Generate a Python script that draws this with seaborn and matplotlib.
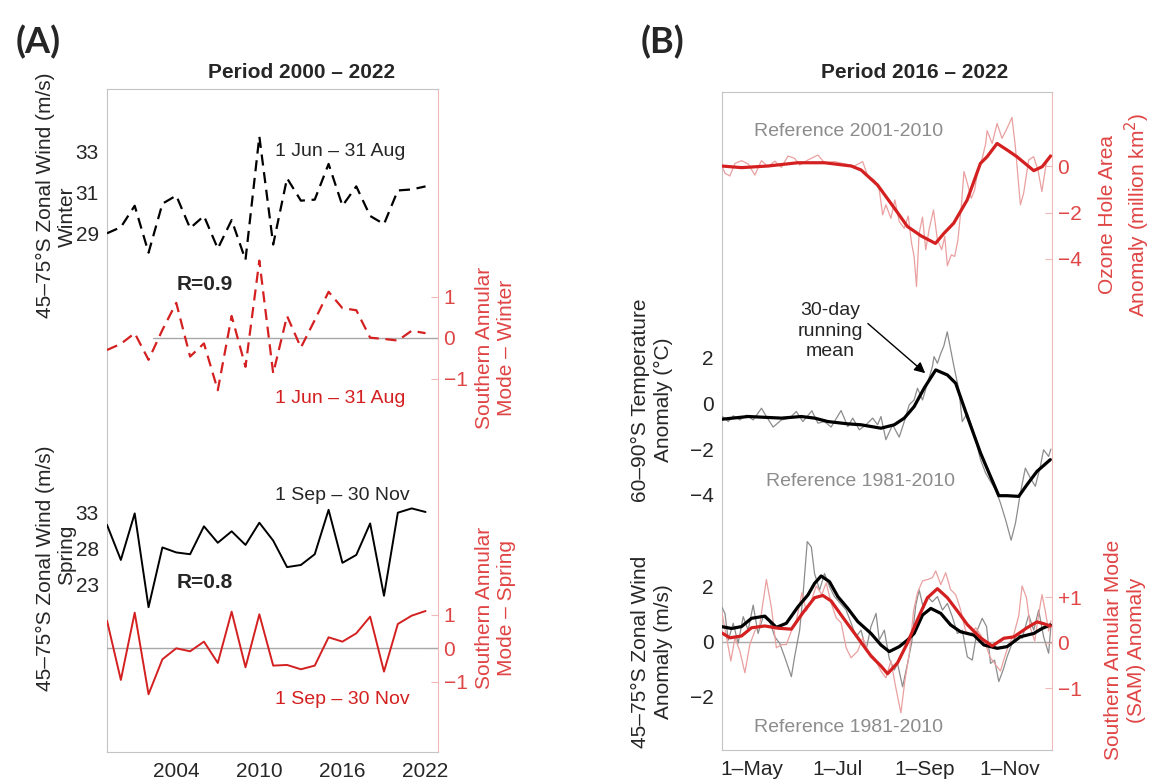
import matplotlib
matplotlib.use("Agg")
import matplotlib.pyplot as plt
import seaborn as sns

# ---- (A) seasonal means, one value per year ----
years = list(range(1999, 2023))
winter_wind = [29.0, 29.3, 30.35, 28.05, 30.45, 30.85, 29.25, 29.85, 28.25, 29.65, 27.7, 33.75,
               28.45, 31.7, 30.6, 30.65, 32.4, 30.35, 31.3, 29.85, 29.45, 31.1, 31.15, 31.3]
winter_sam = [-0.30, -0.15, 0.11, -0.54, 0.19, 0.85, -0.46, -0.14, -1.28, 0.53, -0.71, 1.88,
              -0.87, 0.53, -0.24, 0.43, 1.12, 0.72, 0.67, 0.0, -0.03, -0.07, 0.17, 0.11]
spring_wind = [31.3, 26.4, 32.9, 19.8, 28.15, 27.45, 27.2, 31.1, 28.8, 30.4, 28.5, 31.6,
               29.1, 25.4, 25.7, 27.2, 33.4, 26.0, 27.1, 31.5, 21.4, 33.0, 33.6, 33.1]
spring_sam = [0.83, -0.95, 1.07, -1.38, -0.33, 0.0, -0.09, 0.2, -0.44, 1.1, -0.57, 1.02,
              -0.52, -0.5, -0.63, -0.52, 0.33, 0.2, 0.45, 0.95, -0.7, 0.73, 0.98, 1.12]
year_ticks = [2004, 2010, 2016, 2022]

# ---- (B) daily anomalies (day of year), thin = daily, thick = 30-day running mean ----
oz_day = [99.7, 102.1, 105.6, 109.2, 113.9, 118.6, 123.4, 128.1, 132.8, 137.6, 142.3, 147.0, 151.7,
          155.3, 161.2, 168.3, 173.0, 180.1, 187.2, 194.3, 200.2, 203.7, 208.5, 212.0, 214.4, 216.7,
          220.3, 223.1, 226.2, 229.8, 232.6, 235.0, 236.8, 238.5, 240.4, 242.8, 245.1, 247.5, 250.6,
          253.4, 256.5, 258.6, 260.5, 263.3, 265.7, 268.0, 270.4, 272.3, 274.7, 277.5, 279.9, 282.2,
          285.3, 287.7, 288.8, 292.4, 295.9, 299.4, 303.0, 306.5, 308.9, 312.5, 314.8, 318.4, 321.9,
          325.0, 327.8, 330.9, 333.7]
oz_daily = [0.04, -0.31, -0.43, 0.11, 0.23, 0.09, -0.39, 0.23, -0.03, 0.21, -0.06, 0.43, 0.33,
            0.04, 0.26, 0.47, 0.14, 0.19, 0.09, 0.0, 0.19, -0.43, -0.6, -1.03, -2.1, -1.67,
            -2.25, -1.46, -2.39, -2.68, -2.15, -3.32, -3.89, -5.18, -2.89, -2.2, -3.6, -2.72, -1.89,
            -3.18, -3.6, -3.03, -4.29, -3.82, -3.89, -3.18, -1.75, -0.24, -0.74, -1.39, -1.03, -0.17,
            0.33, 0.94, 1.52, 0.97, 1.83, 1.19, 1.62, 2.09, 0.83, -1.67, -1.17, 0.26, 0.4,
            -0.17, -1.1, 0.12, 0.47]
oz_mean_day = [99.7, 113.9, 132.8, 154, 173, 192, 199, 210.8, 222.6, 232, 241.6, 252, 258, 265,
               274.6, 284, 288.8, 295.9, 303, 310, 322, 328, 334]
oz_mean = [0.0, -0.07, 0.0, 0.14, 0.14, 0.0, -0.17, -0.82, -1.8, -2.6, -3.0, -3.33, -2.9, -2.46,
           -1.46, 0.11, 0.4, 0.97, 0.69, 0.4, -0.2, -0.03, 0.43]

t_day = [99.7, 104.5, 108.0, 112.7, 117.5, 122.2, 128.1, 131.6, 136.4, 142.3, 148.2, 152.9, 157.6,
         164.0, 168.3, 173.0, 177.7, 184.8, 189.6, 193.1, 197.8, 202.6, 207.3, 210.8, 213.2, 216.7,
         221.5, 226.2, 229.8, 233.3, 236.8, 239.2, 242.8, 246.3, 249.8, 251.0, 253.4, 255.8, 258.0,
         260.4, 265.2, 268.7, 271.1, 274.7, 279.4, 284.1, 287.7, 291.2, 294.8, 298.3, 301.9, 305.9,
         309.0, 312.5, 316.0, 319.6, 323.1, 326.7, 329.0, 332.6, 334.2]
t_daily = [-0.55, -0.80, -0.55, -0.73, -0.52, -0.73, -0.22, -0.58, -1.04, -0.73, -0.65, -0.36, -0.80,
           -0.33, -0.87, -0.80, -1.04, -0.32, -1.02, -0.65, -1.16, -0.94, -0.65, -0.94, -0.58, -1.59,
           -0.94, -1.48, -0.80, -0.07, 0.14, 0.65, 0.14, 0.87, 1.59, 2.03, 1.74, 2.17, 2.5,
           3.11, 1.59, 0.58, -0.80, -0.44, -1.30, -2.46, -3.04, -3.41, -3.77, -4.35, -5.07, -5.97,
           -5.22, -3.91, -2.83, -3.26, -3.62, -2.75, -2.03, -2.32, -2.00]
t_mean_day = [99.7, 118.6, 142.3, 156.5, 165.9, 175.4, 189.6, 199.0, 213.2, 222.7, 229.8, 236.8,
              243.9, 252.2, 260.5, 266.4, 274.7, 284.1, 291.2, 297.1, 303.0, 311.3, 317.2, 324.3, 333.8]
t_mean = [-0.70, -0.58, -0.65, -0.58, -0.65, -0.80, -0.90, -0.94, -1.09, -0.94, -0.65, -0.15,
          0.65, 1.45, 1.23, 0.87, -0.58, -2.17, -3.19, -4.03, -4.03, -4.06, -3.55, -2.97, -2.46]

w_day = [99.7, 102.1, 104.5, 108.0, 111.5, 115.1, 118.6, 122.2, 125.7, 129.3, 134.0, 137.6, 141.1,
         144.6, 149.4, 151.7, 155.3, 157.6, 160.7, 163.6, 165.9, 169.5, 173.0, 176.6, 180.1, 184.4,
         188.4, 192.0, 195.5, 199.0, 202.6, 206.1, 209.7, 212.0, 215.6, 219.1, 222.7, 225.0, 228.6,
         232.1, 235.0, 238.0, 240.4, 243.5, 246.3, 249.8, 253.4, 257.0, 260.5, 264.0, 267.6, 271.1,
         274.7, 278.2, 281.8, 285.3, 288.4, 291.2, 294.1, 297.1, 300.2, 303.0, 306.6, 310.1, 313.7,
         318.4, 322.0, 325.5, 329.0, 332.6, 334.2]
w_daily = [1.27, 1.03, 0.06, 0.67, -0.06, 0.91, 0.42, 1.33, 0.30, 0.91, 0.73, 0.18, -0.06,
           -0.55, -1.27, -0.55, 0.42, 1.64, 3.64, 3.45, 2.48, 1.88, 2.48, 2.00, 1.64, 1.39,
           1.15, 0.67, 0.18, 0.42, -0.30, 0.55, 1.03, 0.06, 0.42, -0.61, -1.03, -0.79, -1.64,
           -0.79, -0.06, 1.33, 1.88, 1.21, 1.64, 1.45, 1.64, 1.15, 1.39, 0.91, 0.30, 0.42,
           -0.55, -0.67, 0.42, 0.85, 0.55, -0.79, -0.67, -1.45, -1.03, -0.55, -0.06, 0.30, 0.12,
           0.97, 0.42, 1.15, 0.18, -0.42, 0.55]
w_mean_day = [99.7, 106.8, 113.9, 121.0, 130.5, 138.7, 145.8, 154.1, 161.2, 165.9, 170.6, 176.6,
              182.5, 189.6, 196.7, 206.1, 213.2, 219.1, 226.2, 232.1, 236.8, 242.8, 248.7, 255.8,
              262.8, 269.9, 279.4, 286.5, 296.0, 303.0, 312.5, 322.0, 327.9, 333.8]
w_mean = [0.55, 0.48, 0.55, 0.85, 0.93, 0.52, 0.67, 1.27, 1.70, 2.12, 2.39, 2.18, 1.64, 1.21,
          0.73, 0.30, -0.12, -0.36, -0.18, 0.06, 0.30, 0.97, 1.21, 1.03, 0.61, 0.36, 0.24, -0.12,
          -0.24, -0.18, 0.18, 0.30, 0.48, 0.61]

s_day = [99.7, 103.3, 106.3, 109.2, 112.7, 116.3, 119.8, 123.4, 126.9, 131.6, 135.2, 138.7, 142.3,
         145.8, 149.4, 152.9, 156.9, 160.0, 163.6, 167.1, 171.1, 174.2, 177.7, 181.3, 184.8, 188.4,
         191.9, 196.7, 200.2, 203.7, 208.5, 213.2, 216.7, 220.3, 223.8, 227.4, 230.2, 233.3, 236.4,
         239.2, 242.8, 246.3, 249.8, 252.2, 255.8, 259.3, 262.8, 266.4, 269.9, 273.5, 277.0, 280.6,
         284.1, 287.7, 291.2, 294.8, 298.3, 301.1, 304.2, 307.8, 311.3, 313.7, 316.8, 319.6, 322.7,
         325.5, 327.9, 330.2, 332.6, 334.2]
s_daily = [0.70, 0.11, -0.40, 0.11, -0.18, -0.66, -0.04, 0.26, 0.40, 1.39, 0.77, -0.11, -0.04,
           -0.04, 0.26, 0.48, 1.10, 0.70, 0.92, 1.25, 1.06, 1.32, 0.88, 0.55, 0.44, -0.11,
           -0.33, -0.18, 0.11, -0.18, -0.33, -0.62, -0.77, -0.40, -0.99, -1.54, -0.84, -0.26, 0.70,
           1.10, 1.36, 1.39, 1.43, 1.58, 1.28, 1.54, 1.17, 1.06, 0.73, 0.26, 0.18, 0.33,
           0.18, -0.04, -0.33, -0.48, -0.62, -0.33, -0.04, 0.18, 0.59, 1.25, 0.99, 0.33, 0.04,
           0.62, 1.06, 0.70, 0.26, 0.48]
s_mean_day = [99.7, 105.6, 113.9, 121.0, 130.5, 140.0, 149.4, 157.6, 165.9, 171.8, 177.7, 187.2,
              196.7, 206.1, 213.2, 217.9, 225.0, 232.1, 239.2, 246.3, 253.4, 260.5, 267.6, 274.7,
              284.1, 292.4, 300.7, 307.8, 317.2, 324.3, 329.0, 333.8]
s_mean = [0.22, 0.11, 0.15, 0.33, 0.37, 0.32, 0.30, 0.66, 0.99, 1.04, 0.92, 0.51, 0.11, -0.29,
          -0.51, -0.68, -0.44, 0.0, 0.51, 0.99, 1.19, 0.99, 0.70, 0.40, 0.11, -0.07, 0.10, 0.13,
          0.33, 0.46, 0.42, 0.37]
month_ticks = [121, 182, 244, 305]
month_labels = ["1\u2013May", "1\u2013Jul", "1\u2013Sep", "1\u2013Nov"]

# ---- style ----
sns.set_style("white")
plt.rcParams["font.family"] = ["Liberation Sans", "DejaVu Sans"]

W, H = 1156, 780
FRAME = "#c4c4c4"
PINK = "#f0b8b8"
RED = "#d42020"
RED_TXT = "#e04545"
LIGHT_RED = "#eaa0a0"
GREY = "#8c8c8c"
ZERO = "#a8a8a8"
FS = 14

fig = plt.figure(figsize=(W / 100, H / 100), dpi=100)


def fx(x, y):
    return x / W, 1 - y / H


def rect(left, top, right, bottom):
    return [left / W, 1 - bottom / H, (right - left) / W, (bottom - top) / H]


def band(ax, v1, y1, v2, y2, top, bottom):
    # put value v1 at pixel row y1 and v2 at y2
    k = (y2 - y1) / (v1 - v2)
    ax.set_ylim(v1 - (bottom - y1) / k, v1 + (y1 - top) / k)


def base_axes(r, xlim, xticks, xlabels):
    ax = fig.add_axes(r)
    ax.set_xlim(*xlim)
    ax.set_yticks([])
    ax.set_xticks(xticks)
    ax.set_xticklabels(xlabels)
    for s in ["left", "top", "bottom"]:
        ax.spines[s].set_color(FRAME)
    ax.spines["right"].set_color(PINK)
    ax.tick_params(axis="x", direction="in", length=5, color=FRAME, labelsize=FS + 1, pad=7)
    return ax


def overlay(base, r, side, ticks, labels):
    ax = fig.add_axes(r, sharex=base)
    ax.patch.set_visible(False)
    for s in ax.spines.values():
        s.set_visible(False)
    ax.tick_params(axis="x", bottom=False, labelbottom=False)
    if side == "right":
        ax.yaxis.tick_right()
        ax.tick_params(axis="y", direction="in", length=5, color=PINK,
                       labelcolor=RED_TXT, labelsize=FS + 1, pad=4)
    elif side == "left":
        ax.tick_params(axis="y", left=True, length=0, labelsize=FS + 1, pad=6)
    else:
        ax.tick_params(axis="y", left=False, right=False, labelleft=False)
    ax.set_yticks(ticks)
    ax.set_yticklabels(labels)
    return ax


# ================= Panel A =================
rA = rect(107, 89, 438, 752)
topA, botA = 89, 752
axA = base_axes(rA, (1999, 2022.9), year_ticks, [str(y) for y in year_ticks])

ax1 = overlay(axA, rA, "left", [29, 31, 33], ["29", "31", "33"])
band(ax1, 33, 151.7, 29, 233.3, topA, botA)
sns.lineplot(x=years, y=winter_wind, ax=ax1, color="black", lw=1.6, linestyle=(0, (5, 3)))

ax2 = overlay(axA, rA, "right", [-1, 0, 1], ["\u22121", "0", "1"])
band(ax2, 1, 296.7, 0, 337.7, topA, botA)
ax2.axhline(0, xmin=0.14, color=ZERO, lw=1)
sns.lineplot(x=years, y=winter_sam, ax=ax2, color=RED, lw=1.6, linestyle=(0, (5, 3)))

ax3 = overlay(axA, rA, "left", [23, 28, 33], ["23", "28", "33"])
band(ax3, 33, 512.7, 23, 584.3, topA, botA)
sns.lineplot(x=years, y=spring_wind, ax=ax3, color="black", lw=1.4)

ax4 = overlay(axA, rA, "right", [-1, 0, 1], ["\u22121", "0", "1"])
band(ax4, 1, 615, 0, 648.3, topA, botA)
ax4.axhline(0, color=ZERO, lw=1)
sns.lineplot(x=years, y=spring_sam, ax=ax4, color=RED, lw=1.4)

for a in (ax1, ax2, ax3, ax4):
    a.set_xlabel("")
    a.set_ylabel("")
axA.set_xlim(1999, 2022.9)

fig.text(*fx(275, 151), "1 Jun \u2013 31 Aug", fontsize=FS, ha="left", va="center")
fig.text(*fx(177, 284), "R=0.9", fontsize=FS + 1, fontweight="bold", ha="left", va="center")
fig.text(*fx(275, 399), "1 Jun \u2013 31 Aug", fontsize=FS, color=RED, ha="left", va="center")
fig.text(*fx(275, 496), "1 Sep \u2013 30 Nov", fontsize=FS, ha="left", va="center")
fig.text(*fx(177, 583), "R=0.8", fontsize=FS + 1, fontweight="bold", ha="left", va="center")
fig.text(*fx(275, 699), "1 Sep \u2013 30 Nov", fontsize=FS, color=RED, ha="left", va="center")

fig.text(*fx(302, 73), "Period 2000 \u2013 2022", fontsize=FS + 1, fontweight="bold",
         ha="center", va="center")
fig.text(*fx(38, 42), "(A)", fontsize=26, fontweight="bold", family=["Lato", "DejaVu Sans"],
         ha="center", va="center")

fig.text(*fx(45, 195), "45\u201375\u00b0S Zonal Wind (m/s)", fontsize=FS + 1, rotation=90,
         ha="center", va="center")
fig.text(*fx(67, 217), "Winter", fontsize=FS + 1, rotation=90, ha="center", va="center")
fig.text(*fx(45, 568), "45\u201375\u00b0S Zonal Wind (m/s)", fontsize=FS + 1, rotation=90,
         ha="center", va="center")
fig.text(*fx(67, 555), "Spring", fontsize=FS + 1, rotation=90, ha="center", va="center")
fig.text(*fx(495, 348), "Southern Annular\nMode \u2013 Winter", fontsize=FS + 1, color=RED_TXT,
         rotation=90, ha="center", va="center", multialignment="center", linespacing=1.2)
fig.text(*fx(495, 608), "Southern Annular\nMode \u2013 Spring", fontsize=FS + 1, color=RED_TXT,
         rotation=90, ha="center", va="center", multialignment="center", linespacing=1.2)

# ================= Panel B =================
rB = rect(722, 92, 1052, 750)
topB, botB = 92, 750
axB = base_axes(rB, (100, 335), month_ticks, month_labels)

bo = overlay(axB, rB, "right", [-4, -2, 0], ["\u22124", "\u22122", "0"])
band(bo, 0, 166, -4, 259, topB, botB)
sns.lineplot(x=oz_day, y=oz_daily, ax=bo, color=LIGHT_RED, lw=0.9)
sns.lineplot(x=oz_mean_day, y=oz_mean, ax=bo, color=RED, lw=2.3)

bt = overlay(axB, rB, "left", [-4, -2, 0, 2], ["\u22124", "\u22122", "0", "2"])
band(bt, 2, 357.3, -4, 495, topB, botB)
sns.lineplot(x=t_day, y=t_daily, ax=bt, color=GREY, lw=0.9)
sns.lineplot(x=t_mean_day, y=t_mean, ax=bt, color="black", lw=2.3)
bt.annotate("", xy=(246.2, 1.23), xytext=(202.4, 3.55),
            arrowprops=dict(arrowstyle="-|>", color="black", lw=1.0, mutation_scale=16))

bw = overlay(axB, rB, "left", [-2, 0, 2], ["\u22122", "0", "2"])
band(bw, 2, 586.7, -2, 696.7, topB, botB)
bw.axhline(0, color=ZERO, lw=1)
sns.lineplot(x=w_day, y=w_daily, ax=bw, color=GREY, lw=0.9)

bs = overlay(axB, rB, "right", [-1, 0, 1], ["\u22121", "0", "+1"])
band(bs, 1, 597.3, -1, 688.3, topB, botB)
sns.lineplot(x=s_day, y=s_daily, ax=bs, color=LIGHT_RED, lw=0.9)

bw2 = overlay(axB, rB, "none", [], [])
band(bw2, 2, 586.7, -2, 696.7, topB, botB)
sns.lineplot(x=w_mean_day, y=w_mean, ax=bw2, color="black", lw=2.3)

bs2 = overlay(axB, rB, "none", [], [])
band(bs2, 1, 597.3, -1, 688.3, topB, botB)
sns.lineplot(x=s_mean_day, y=s_mean, ax=bs2, color=RED, lw=2.3)

for a in (bo, bt, bw, bs, bw2, bs2):
    a.set_xlabel("")
    a.set_ylabel("")
axB.set_xlim(100, 335)

fig.text(*fx(849, 131), "Reference 2001-2010", fontsize=FS, color=GREY, ha="center", va="center")
fig.text(*fx(861, 482), "Reference 1981-2010", fontsize=FS, color=GREY, ha="center", va="center")
fig.text(*fx(849, 728), "Reference 1981-2010", fontsize=FS, color=GREY, ha="center", va="center")
fig.text(*fx(830, 331), "30-day\nrunning\nmean", fontsize=FS, ha="center", va="center",
         multialignment="center", linespacing=1.3)

fig.text(*fx(915, 72), "Period 2016 \u2013 2022", fontsize=FS + 1, fontweight="bold",
         ha="center", va="center")
fig.text(*fx(663, 42), "(B)", fontsize=26, fontweight="bold", family=["Lato", "DejaVu Sans"],
         ha="center", va="center")

fig.text(*fx(652, 400), "60\u201390\u00b0S Temperature\nAnomaly (\u00b0C)", fontsize=FS + 1,
         rotation=90, ha="center", va="center", multialignment="center", linespacing=1.3)
fig.text(*fx(652, 652), "45\u201375\u00b0S Zonal Wind\nAnomaly (m/s)", fontsize=FS + 1,
         rotation=90, ha="center", va="center", multialignment="center", linespacing=1.3)
fig.text(*fx(1125, 215), "Ozone Hole Area\nAnomaly (million km$^2$)", fontsize=FS + 1,
         color=RED_TXT, rotation=90, ha="center", va="center", multialignment="center",
         linespacing=1.3)
fig.text(*fx(1125, 650), "Southern Annular Mode\n(SAM) Anomaly", fontsize=FS + 1,
         color=RED_TXT, rotation=90, ha="center", va="center", multialignment="center",
         linespacing=1.3)

fig.savefig("out.png", dpi=100)
